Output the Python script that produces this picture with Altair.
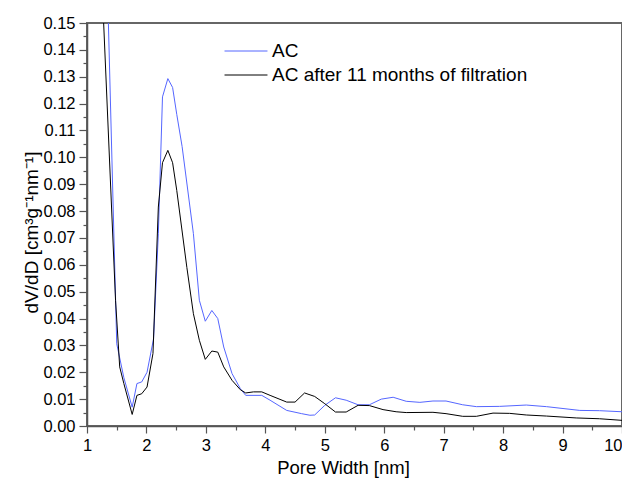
import altair as alt
import pandas as pd
import numpy as np

series_names = ["AC", "AC after 11 months of filtration"]
series_colors = ["#5566ff", "#000000"]

ac_x = [1.30, 1.50, 1.62, 1.76, 1.84, 1.92, 2.01, 2.12, 2.20, 2.27, 2.36, 2.44, 2.51, 2.60,
        2.79, 2.89, 2.99, 3.10, 3.20, 3.30, 3.44, 3.58, 3.67, 3.94, 4.08, 4.36, 4.61, 4.75,
        4.83, 5.00, 5.18, 5.36, 5.56, 5.75, 5.95, 6.15, 6.37, 6.60, 6.82, 7.04, 7.32, 7.55,
        7.94, 8.39, 8.73, 9.29, 9.62, 10.0]
ac_y = [0.201, 0.0306, 0.018, 0.007, 0.0158, 0.0164, 0.020, 0.0325, 0.0716, 0.1225, 0.1293,
        0.126, 0.116, 0.104, 0.0716, 0.0468, 0.039, 0.043, 0.040, 0.0294, 0.0195, 0.0139,
        0.0114, 0.0114, 0.0096, 0.0058, 0.0046, 0.0040, 0.0041, 0.0077, 0.0105, 0.0096,
        0.0079, 0.0079, 0.0100, 0.0107, 0.0092, 0.0088, 0.0093, 0.0093, 0.0079, 0.0072,
        0.0073, 0.0078, 0.0072, 0.0058, 0.0057, 0.0053]

aged_x = [1.22, 1.48, 1.55, 1.62, 1.76, 1.84, 1.92, 2.01, 2.11, 2.20, 2.27, 2.36, 2.44, 2.51,
          2.68, 2.79, 2.89, 2.99, 3.10, 3.20, 3.30, 3.44, 3.58, 3.67, 3.80, 3.94, 4.08, 4.36,
          4.50, 4.66, 4.83, 5.00, 5.18, 5.36, 5.56, 5.75, 5.98, 6.20, 6.37, 6.82, 7.04, 7.32,
          7.55, 7.83, 8.11, 8.39, 8.73, 9.23, 9.62, 10.0]
aged_y = [0.181, 0.0468, 0.022, 0.0158, 0.0043, 0.0114, 0.012, 0.0145, 0.027, 0.0815, 0.098,
          0.1026, 0.098, 0.0877, 0.059, 0.0418, 0.0319, 0.0248, 0.0279, 0.0275, 0.022, 0.017,
          0.0135, 0.0123, 0.0127, 0.0127, 0.0114, 0.0089, 0.0089, 0.0123, 0.0110, 0.0083,
          0.0052, 0.0052, 0.0077, 0.0076, 0.0061, 0.0053, 0.0050, 0.0051, 0.0046, 0.0036,
          0.0036, 0.0048, 0.0047, 0.0041, 0.0037, 0.0030, 0.0027, 0.0021]

assert len(ac_x) == len(ac_y) and len(aged_x) == len(aged_y)

df = pd.concat([
    pd.DataFrame({"x": ac_x, "y": ac_y, "series": series_names[0], "order": range(len(ac_x))}),
    pd.DataFrame({"x": aged_x, "y": aged_y, "series": series_names[1], "order": range(len(aged_x))}),
])

x_ticks = [round(v, 2) for v in np.arange(1, 10.01, 0.5)]
y_ticks = [round(v, 3) for v in np.arange(0, 0.1501, 0.005)]

FONT = "Liberation Sans"
AXC = "#555555"
Y_MAJOR = "abs(datum.value*100 - round(datum.value*100)) < 1e-6"

chart = alt.Chart(df).mark_line(clip=True, strokeWidth=1).encode(
    x=alt.X("x:Q", scale=alt.Scale(domain=[1, 10], nice=False),
            axis=alt.Axis(title="Pore Width [nm]", values=x_ticks,
                          labelExpr="datum.value % 1 === 0 ? format(datum.value, 'd') : ''",
                          labelAlign={"condition": {"test": "datum.value >= 10", "value": "right"}, "value": "center"},
                          tickSize={"condition": {"test": "datum.value % 1 === 0", "value": 7}, "value": 4},
                          labelFlush=False, labelOverlap=False, grid=False,
                          labelFontSize=16.5, titleFontSize=18.5, titleFontWeight="normal",
                          labelPadding=4, titleX=256, titleY=47.3, titleBaseline="alphabetic",
                          titleAlign="center",
                          domainColor=AXC, domainWidth=1.5, tickColor=AXC, tickWidth=1.2,
                          labelColor="black", titleColor="black")),
    y=alt.Y("y:Q", scale=alt.Scale(domain=[0, 0.15], nice=False),
            axis=alt.Axis(title="dV/dD [cm³g⁻¹nm⁻¹]", values=y_ticks,
                          labelExpr=Y_MAJOR + " ? format(datum.value, '.2f') : ''",
                          tickSize={"condition": {"test": Y_MAJOR, "value": 8}, "value": 4},
                          labelFlush=False, labelOverlap=False, grid=False,
                          labelFontSize=16.5, titleFontSize=19, titleFontWeight="normal",
                          labelPadding=4, titleX=-50, titleY=209, titleBaseline="alphabetic",
                          titleAlign="center", titleAngle=270,
                          domainColor=AXC, domainWidth=1.5, tickColor=AXC, tickWidth=1.2,
                          labelColor="black", titleColor="black")),
    color=alt.Color("series:N", scale=alt.Scale(domain=series_names, range=series_colors),
                    legend=alt.Legend(title=None, orient="none", legendX=149.5, legendY=18.5,
                                      symbolType="M-3,0H3", symbolSize=205, symbolStrokeWidth=1,
                                      symbolFillColor="transparent",
                                      labelFontSize=19, labelOffset=16.5, rowPadding=4, padding=0,
                                      labelLimit=600, labelColor="black")),
    order="order:Q",
).properties(
    width=535, height=403,
    autosize=alt.AutoSizeParams(type="none"),
    padding={"left": 79, "top": 15, "right": 0, "bottom": 55},
).configure(font=FONT).configure_view(stroke="#666666", strokeWidth=2)

chart.save("out.html", embed_options={"renderer": "svg", "actions": False})
